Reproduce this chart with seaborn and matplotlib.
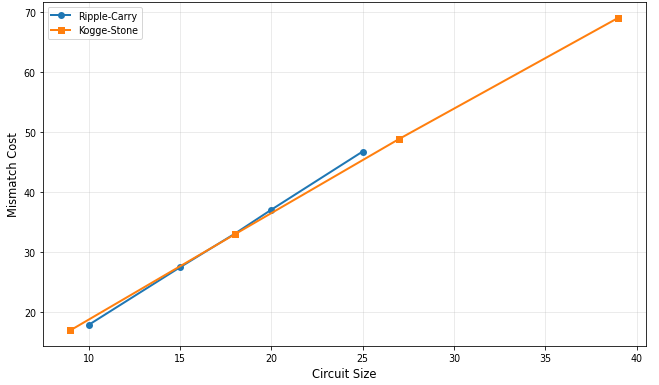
import pandas as pd
import matplotlib.pyplot as plt
import seaborn as sns

# donnees
rc_size = [10, 15, 18, 20, 25]
rc_cost = [17.8, 27.4, 33.0, 37.0, 46.7]
ks_size = [9, 18, 27, 39]
ks_cost = [16.9, 32.9, 48.8, 69.0]

df_rc = pd.DataFrame({"size": rc_size, "cost": rc_cost})
df_ks = pd.DataFrame({"size": ks_size, "cost": ks_cost})

fig, ax = plt.subplots(figsize=(9.153, 5.361), dpi=72)
sns.lineplot(data=df_rc, x="size", y="cost", marker="o", color="#1f77b4",
             linewidth=2, markersize=7, markeredgewidth=0, label="Ripple-Carry", ax=ax)
sns.lineplot(data=df_ks, x="size", y="cost", marker="s", color="#ff7f0e",
             linewidth=2, markersize=7, markeredgewidth=0, label="Kogge-Stone", ax=ax)

ax.set_xlabel("Circuit Size", fontsize=11.5)
ax.set_ylabel("Mismatch Cost", fontsize=11.5)
ax.tick_params(labelsize=9.5)
ax.grid(True, alpha=0.3)
ax.legend(loc="upper left", fontsize=9.5)
plt.subplots_adjust(left=0.065, right=0.980, top=0.992, bottom=0.101)
plt.savefig("out.png")
